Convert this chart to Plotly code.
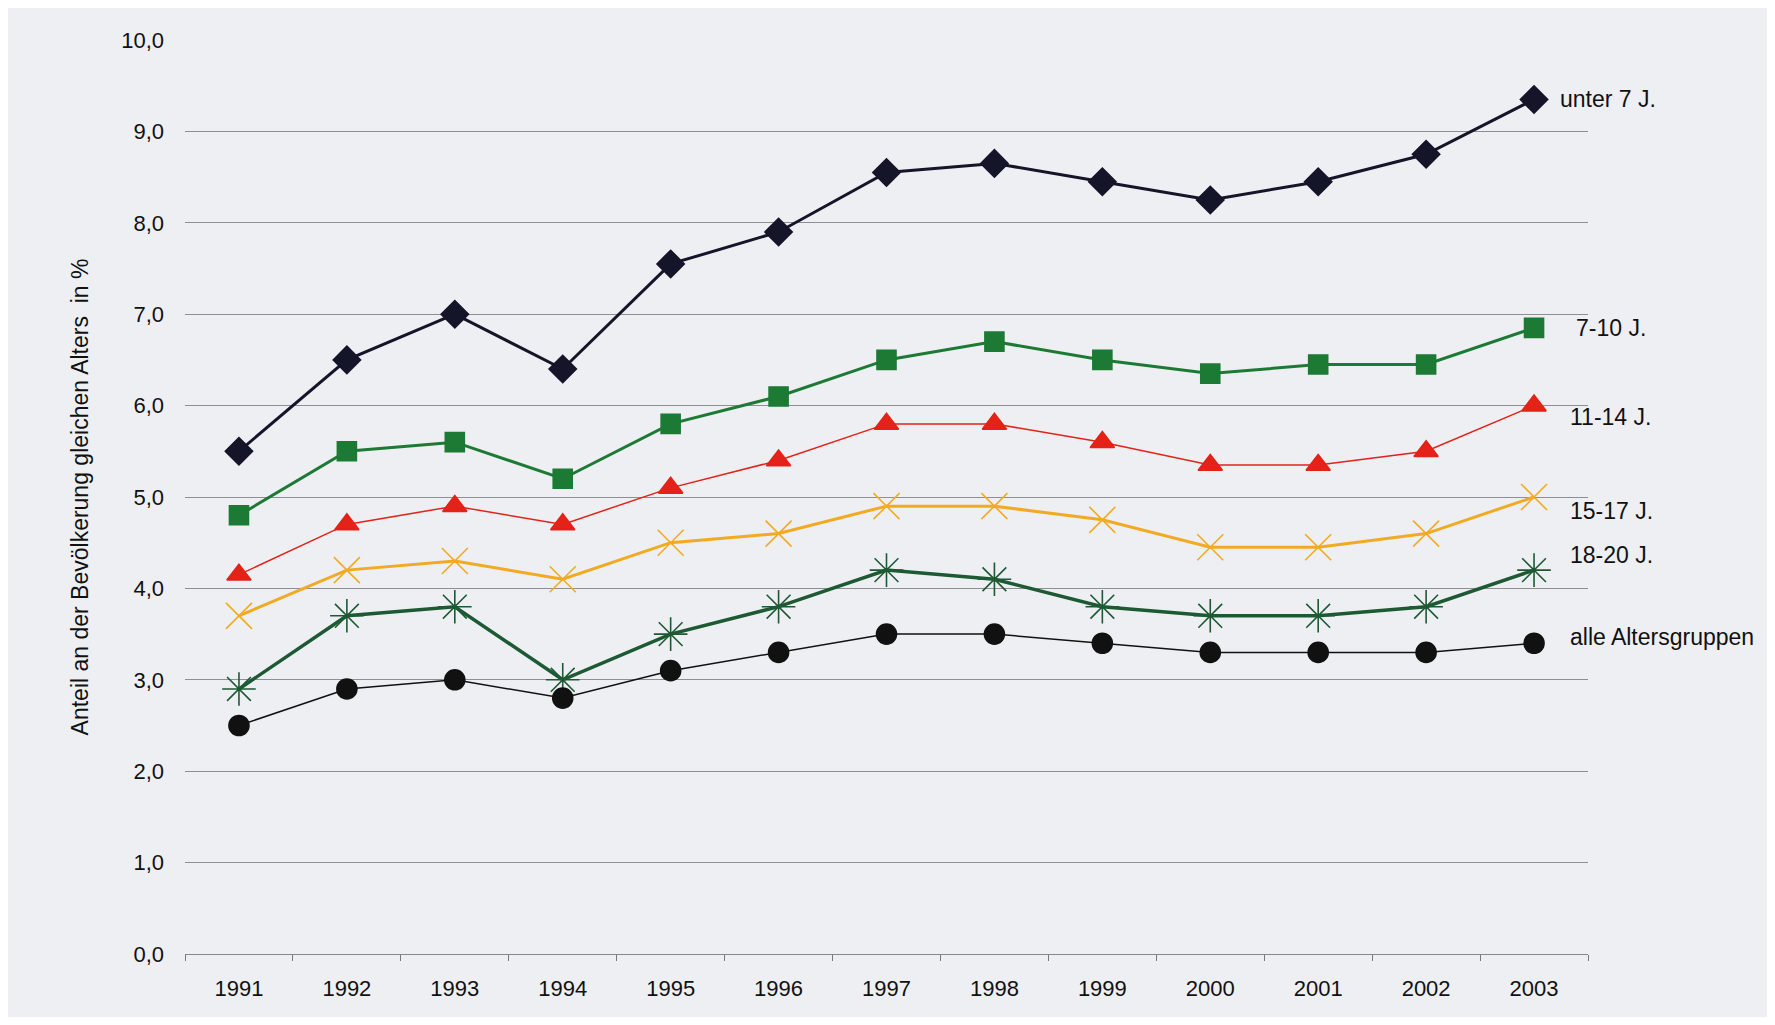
import plotly.graph_objects as go

years = ["1991", "1992", "1993", "1994", "1995", "1996", "1997",
         "1998", "1999", "2000", "2001", "2002", "2003"]

unter_7 = [5.5, 6.5, 7.0, 6.4, 7.55, 7.9, 8.55, 8.65, 8.45, 8.25, 8.45, 8.75, 9.35]
j_7_10 = [4.8, 5.5, 5.6, 5.2, 5.8, 6.1, 6.5, 6.7, 6.5, 6.35, 6.45, 6.45, 6.85]
j_11_14 = [4.15, 4.7, 4.9, 4.7, 5.1, 5.4, 5.8, 5.8, 5.6, 5.35, 5.35, 5.5, 6.0]
j_15_17 = [3.7, 4.2, 4.3, 4.1, 4.5, 4.6, 4.9, 4.9, 4.75, 4.45, 4.45, 4.6, 5.0]
j_18_20 = [2.9, 3.7, 3.8, 3.0, 3.5, 3.8, 4.2, 4.1, 3.8, 3.7, 3.7, 3.8, 4.2]
alle = [2.5, 2.9, 3.0, 2.8, 3.1, 3.3, 3.5, 3.5, 3.4, 3.3, 3.3, 3.3, 3.4]

y_ticks = [0, 1, 2, 3, 4, 5, 6, 7, 8, 9, 10]
y_ticktext = ["0,0", "1,0", "2,0", "3,0", "4,0", "5,0", "6,0", "7,0", "8,0", "9,0", "10,0"]

# where the group names sit on the right (y value, shift in px from 2003)
label_y = [9.35, 6.85, 5.87, 4.85, 4.37, 3.47]
label_shift = [24, 40, 34, 34, 34, 34]

FONT = "Arial, Liberation Sans, sans-serif"

series = [
    # name, values, line color, line width, marker symbol, marker size
    ("unter 7 J.", unter_7, "#15152a", 3, "diamond", 21),
    ("7-10 J.", j_7_10, "#1d7a34", 3, "square", 19),
    ("11-14 J.", j_11_14, "#e32218", 1.5, "triangle-up", 21),
    ("15-17 J.", j_15_17, "#f2aa22", 3, "x-thin-open", 26),
    ("18-20 J.", j_18_20, "#1d5a34", 3.5, "asterisk-open", 28),
    ("alle Altersgruppen", alle, "#111111", 1.5, "circle", 20),
]

fig = go.Figure()

for name, vals, color, lw, sym, msize in series:
    fig.add_trace(go.Scatter(
        x=years,
        y=vals,
        mode="lines+markers",
        name=name,
        line=dict(color=color, width=lw),
        marker=dict(symbol=sym, size=msize, color=color,
                    line=dict(color=color, width=1.6)),
        showlegend=False,
    ))

# group names on the right side (x given as category index)
for (name, *_), ly, shift in zip(series, label_y, label_shift):
    fig.add_annotation(
        x=len(years) - 1, y=ly, xref="x", yref="y",
        text=name, showarrow=False,
        xanchor="left", yanchor="middle", xshift=shift,
        font=dict(family=FONT, size=23, color="#111111"),
    )

fig.update_layout(
    width=1759,
    height=1009,
    paper_bgcolor="#eeeff3",
    plot_bgcolor="rgba(0,0,0,0)",
    margin=dict(l=177, r=179, t=32, b=63),
    font=dict(family=FONT, color="#111111"),
    xaxis=dict(
        type="category",
        range=[-0.5, 12.5],
        showgrid=False,
        ticks="outside",
        tickson="boundaries",
        ticklen=6,
        tickcolor="#777777",
        showline=True,
        linecolor="#888888",
        linewidth=1,
        ticklabelstandoff=15,
        tickfont=dict(size=22, family=FONT, color="#111111"),
        zeroline=False,
    ),
    yaxis=dict(
        range=[0, 10],
        tickvals=y_ticks,
        ticktext=y_ticktext,
        showgrid=True,
        gridcolor="#8e8e94",
        gridwidth=1,
        zeroline=False,
        showline=False,
        ticks="",
        ticklabelstandoff=20,
        tickfont=dict(size=22, family=FONT, color="#111111"),
        title=dict(text="Anteil an der Bevölkerung gleichen Alters  in %",
                   font=dict(size=23, family=FONT, color="#111111"),
                   standoff=26),
    ),
)

fig.write_html("out.html")
